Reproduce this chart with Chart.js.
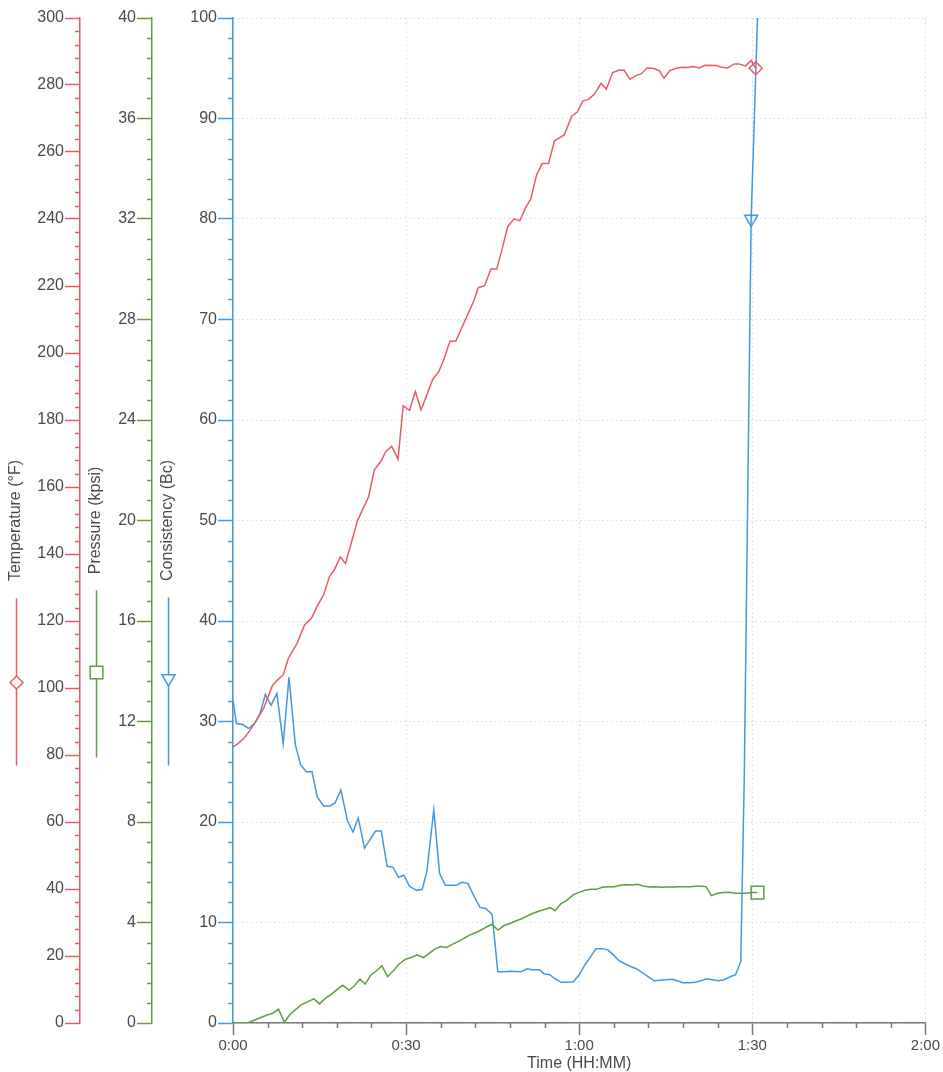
<!DOCTYPE html>
<html lang="en">
<head>
<meta charset="UTF-8" />
<title>Thickening Time Test</title>
<script src="https://cdn.jsdelivr.net/npm/chart.js@4"></script>
<style>
  html, body { margin: 0; padding: 0; background: #fff; }
  #wrap { position: relative; width: 943px; height: 1072px; }
</style>
</head>
<body>
<div id="wrap"><canvas id="myChart"></canvas></div>
<script>
// time in minutes from start
const tempTime = [
  0, 0.7, 1.9, 3.0, 4.2, 5.3, 6.8, 7.6, 8.7, 9.6,
  11.1, 12.4, 13.6, 14.6, 15.7, 16.7, 17.6, 18.6, 19.5, 20.4,
  21.6, 23.5, 24.5, 25.6, 26.5, 27.5, 28.6, 29.5, 30.6, 31.6,
  32.6, 34.6, 35.7, 36.5, 37.6, 38.6, 40.4, 41.8, 42.5, 43.6,
  44.7, 45.7, 46.6, 47.6, 48.7, 49.7, 50.8, 51.6, 52.6, 53.6,
  54.7, 55.7, 57.4, 58.7, 59.7, 60.6, 61.6, 62.6, 63.8, 64.7,
  65.8, 66.8, 67.8, 68.8, 69.8, 70.7, 71.8, 73.0, 73.9, 74.7,
  75.7, 76.8, 77.8, 78.8, 79.8, 80.8, 81.8, 83.7, 84.7, 85.7,
  86.9, 87.7, 88.8, 89.8, 90.6
];
// temperature, °F
const tempValues = [
  82.4, 83.2, 85.0, 87.5, 90.7, 93.9, 100.6, 102.2, 103.9, 108.9,
  113.3, 118.8, 120.8, 124.5, 127.8, 133.2, 135.4, 139.1, 137.2, 142.7,
  150.1, 157.1, 165.1, 167.6, 170.6, 172.2, 168.3, 184.2, 182.9, 188.5,
  183.0, 192.1, 194.6, 197.9, 203.5, 203.5, 210.4, 215.8, 219.5, 220.1,
  225.1, 225.1, 230.7, 237.7, 240.0, 239.5, 243.7, 245.9, 253.1, 256.6,
  256.6, 263.3, 265.1, 270.7, 272.0, 275.2, 275.7, 277.2, 280.5, 278.7,
  283.7, 284.4, 284.4, 281.7, 282.8, 283.3, 285.1, 284.9, 284.2, 282.0,
  284.3, 285.0, 285.3, 285.2, 285.5, 285.1, 285.9, 285.8, 285.3, 285.1,
  286.3, 286.3, 285.7, 287.3, 285.0
];

const pressTime = [
  0, 2.7, 4.2, 5.9, 6.9, 7.9, 8.9, 9.9, 11.8, 13.0,
  14.0, 15.0, 16.0, 17.1, 17.9, 19.0, 20.1, 21.0, 22.0, 22.9,
  23.9, 24.9, 25.8, 26.8, 27.9, 28.8, 29.9, 30.9, 31.9, 33.0,
  33.9, 34.9, 36.0, 37.0, 38.0, 39.0, 40.0, 41.0, 42.0, 43.0,
  43.9, 44.9, 45.9, 47.0, 48.0, 49.0, 50.0, 51.0, 52.0, 53.1,
  54.1, 55.0, 55.8, 56.8, 57.8, 59.0, 60.0, 61.0, 62.0, 63.0,
  64.0, 65.1, 66.1, 67.1, 68.1, 69.1, 70.1, 71.1, 72.1, 73.1,
  74.2, 75.1, 76.2, 77.2, 78.2, 79.2, 80.2, 81.3, 82.0, 82.9,
  84.0, 85.0, 86.0, 87.1, 88.0, 88.9, 89.8, 90.9
];
// pressure, kpsi
const pressValues = [
  0, 0.02, 0.16, 0.32, 0.39, 0.55, 0.03, 0.35, 0.72, 0.85,
  0.96, 0.76, 0.98, 1.15, 1.31, 1.50, 1.31, 1.47, 1.75, 1.55,
  1.91, 2.08, 2.28, 1.84, 2.11, 2.35, 2.54, 2.61, 2.71, 2.60,
  2.75, 2.93, 3.04, 3.01, 3.13, 3.24, 3.37, 3.50, 3.59, 3.70,
  3.82, 3.93, 3.70, 3.88, 3.96, 4.06, 4.15, 4.26, 4.37, 4.46,
  4.53, 4.59, 4.47, 4.74, 4.87, 5.11, 5.20, 5.28, 5.32, 5.32,
  5.40, 5.42, 5.42, 5.48, 5.50, 5.49, 5.52, 5.45, 5.41, 5.42,
  5.40, 5.41, 5.41, 5.42, 5.42, 5.42, 5.44, 5.44, 5.42, 5.07,
  5.16, 5.19, 5.20, 5.16, 5.16, 5.16, 5.19, 5.19
];

const consTime = [
  0, 0.6, 1.7, 2.7, 3.7, 4.7, 5.6, 6.6, 7.6, 8.7,
  9.7, 10.8, 11.7, 12.7, 13.7, 14.6, 15.7, 16.8, 17.7, 18.7,
  19.8, 20.8, 21.7, 22.8, 24.7, 25.7, 26.7, 27.7, 28.7, 29.6,
  30.6, 31.8, 32.8, 33.6, 34.8, 35.8, 36.8, 38.7, 39.7, 40.7,
  41.7, 42.8, 43.8, 44.9, 45.9, 47.0, 48.0, 49.9, 51.0, 51.9,
  53.1, 53.9, 54.9, 55.8, 56.9, 58.0, 59.0, 60.0, 61.0, 62.0,
  62.9, 63.9, 64.9, 65.9, 66.9, 67.9, 69.0, 69.9, 71.0, 72.0,
  73.0, 74.0, 75.0, 76.1, 77.0, 78.0, 79.1, 80.1, 81.1, 82.1,
  83.1, 84.2, 85.1, 86.0, 87.1, 88.0, 88.6, 89.8, 90.9
];
// consistency, Bc
const consValues = [
  32.1, 29.8, 29.7, 29.3, 29.8, 30.8, 32.7, 31.6, 32.8, 27.8,
  34.4, 27.7, 25.7, 25.0, 25.0, 22.5, 21.6, 21.6, 21.9, 23.2,
  20.2, 19.0, 20.4, 17.4, 19.1, 19.1, 15.6, 15.5, 14.5, 14.7,
  13.6, 13.2, 13.3, 15.1, 21.2, 14.9, 13.7, 13.7, 14.0, 13.9,
  12.7, 11.5, 11.4, 10.8, 5.1, 5.1, 5.15, 5.1, 5.4, 5.3,
  5.3, 4.9, 4.8, 4.4, 4.05, 4.05, 4.1, 4.8, 5.8, 6.6,
  7.4, 7.4, 7.3, 6.8, 6.2, 5.9, 5.6, 5.4, 5.0, 4.6,
  4.2, 4.25, 4.3, 4.35, 4.2, 4.0, 4.0, 4.05, 4.2, 4.4,
  4.3, 4.2, 4.3, 4.55, 4.8, 6.1, 24.2, 80, 100
];
const consMarkerIndex = 87;

const RED = '#ea5a66';
const GREEN = '#5b9f3f';
const BLUE = '#4299de';
const TEXT = '#4a4a4a';
const GRID = 'rgba(170,185,200,0.5)';
const FONT = "'Liberation Sans', Arial, sans-serif";

function fmtTime(v) {
    const h = Math.floor(v / 60);
    const m = Math.round(v % 60);
    return h + ':' + String(m).padStart(2, '0');
}

function toPoints(xs, ys) {
    return xs.map((x, i) => ({ x: x, y: ys[i] }));
}

// minor tick marks and the little line+marker keys under the axis titles
const axisExtras = {
    id: 'axisExtras',
    afterDraw(chart) {
        const ctx = chart.ctx;
        const minor = { yTemp: [4, 20, RED], yPress: [0.8, 4, GREEN], yCons: [2, 10, BLUE] };
        ctx.save();
        ctx.lineWidth = 1.5;
        Object.keys(minor).forEach(id => {
            const s = chart.scales[id];
            const [step, major, col] = minor[id];
            ctx.strokeStyle = col;
            const n = Math.round((s.max - s.min) / step);
            for (let i = 0; i <= n; i++) {
                const v = s.min + i * step;
                if (Math.abs(v / major - Math.round(v / major)) < 1e-6) continue;
                const y = Math.round(s.getPixelForValue(v)) + 0.5;
                ctx.beginPath();
                ctx.moveTo(s.right - 5, y);
                ctx.lineTo(s.right, y);
                ctx.stroke();
            }
        });
        const xs = chart.scales.x;
        ctx.strokeStyle = '#777';
        for (let v = 6; v < xs.max; v += 6) {
            if (v % 30 === 0) continue;
            const x = Math.round(xs.getPixelForValue(v)) + 0.5;
            ctx.beginPath();
            ctx.moveTo(x, xs.top);
            ctx.lineTo(x, xs.top + 5);
            ctx.stroke();
        }

        const keys = [
            { id: 'yTemp', color: RED, style: 'rectRot', rot: 0, r: 6.5, from: 78, to: 245, at: 162 },
            { id: 'yPress', color: GREEN, style: 'rect', rot: 0, r: 9, from: 70, to: 237, at: 152 },
            { id: 'yCons', color: BLUE, style: 'triangle', rot: 180, r: 7.5, from: 77, to: 245, at: 158 }
        ];
        keys.forEach(k => {
            const s = chart.scales[k.id];
            const t = s.options.title;
            const f = Chart.helpers.toFont(t.font);
            const p = Chart.helpers.toPadding(t.padding);
            const x = Math.round(s.left + p.top + f.lineHeight / 2) + 0.5;
            const mid = (s.top + s.bottom) / 2;
            ctx.strokeStyle = k.color;
            ctx.lineWidth = 1.5;
            ctx.beginPath();
            ctx.moveTo(x, mid + k.from);
            ctx.lineTo(x, mid + k.to);
            ctx.stroke();
            ctx.fillStyle = '#fff';
            Chart.helpers.drawPoint(ctx, { pointStyle: k.style, rotation: k.rot, radius: k.r, borderWidth: 1.5 }, x, mid + k.at);
        });
        ctx.restore();
    }
};

function yAxis(opts) {
    return {
        type: 'linear',
        position: 'left',
        weight: opts.weight,
        min: opts.min,
        max: opts.max,
        ticks: {
            stepSize: opts.step,
            color: TEXT,
            padding: 1,
            font: { family: FONT, size: 16, lineHeight: 1 }
        },
        grid: {
            drawOnChartArea: !!opts.grid,
            color: GRID,
            lineWidth: 1,
            tickLength: 15,
            tickColor: opts.color,
            tickWidth: 1.5
        },
        border: { color: opts.color, width: 1.5, dash: [1.5, 3] },
        title: {
            display: true,
            text: opts.title,
            color: TEXT,
            font: { family: FONT, size: 16, lineHeight: 1.2 },
            padding: { top: 6, bottom: 0 }
        },
        afterFit: s => { s.width = opts.width; }
    };
}

const lastOf = arr => arr.length - 1;

new Chart(document.getElementById('myChart'), {
    type: 'line',
    data: {
        datasets: [
            {
                label: 'Temperature (°F)',
                data: toPoints(tempTime, tempValues),
                yAxisID: 'yTemp',
                borderColor: RED,
                borderWidth: 1.5,
                pointStyle: 'rectRot',
                pointRadius: c => c.dataIndex === lastOf(tempValues) ? 6.5 : 0,
                pointBorderColor: RED,
                pointBorderWidth: 1.5,
                pointBackgroundColor: 'rgba(0,0,0,0)'
            },
            {
                label: 'Pressure (kpsi)',
                data: toPoints(pressTime, pressValues),
                yAxisID: 'yPress',
                borderColor: GREEN,
                borderWidth: 1.5,
                pointStyle: 'rect',
                pointRadius: c => c.dataIndex === lastOf(pressValues) ? 9 : 0,
                pointBorderColor: GREEN,
                pointBorderWidth: 1.5,
                pointBackgroundColor: 'rgba(0,0,0,0)'
            },
            {
                label: 'Consistency (Bc)',
                data: toPoints(consTime, consValues),
                yAxisID: 'yCons',
                borderColor: BLUE,
                borderWidth: 1.5,
                pointStyle: 'triangle',
                pointRotation: 180,
                pointRadius: c => c.dataIndex === consMarkerIndex ? 7.5 : 0,
                pointBorderColor: BLUE,
                pointBorderWidth: 1.5,
                pointBackgroundColor: 'rgba(0,0,0,0)'
            }
        ]
    },
    options: {
        responsive: true,
        maintainAspectRatio: false,
        animation: false,
        layout: { padding: { top: 18, right: 0, bottom: 0, left: 0 } },
        plugins: {
            legend: { display: false },
            tooltip: { enabled: false }
        },
        scales: {
            x: {
                type: 'linear',
                position: 'bottom',
                min: 0,
                max: 120,
                ticks: {
                    stepSize: 30,
                    color: TEXT,
                    padding: 3,
                    maxRotation: 0,
                    font: { family: FONT, size: 15, lineHeight: 1 },
                    callback: v => fmtTime(v)
                },
                grid: { color: GRID, lineWidth: 1, tickLength: 12, tickColor: '#777', tickWidth: 1.5 },
                border: { color: '#777', width: 1.5, dash: [1.5, 3] },
                title: {
                    display: true,
                    text: 'Time (HH:MM)',
                    color: TEXT,
                    font: { family: FONT, size: 16, lineHeight: 1 },
                    padding: 0
                }
            },
            yTemp: yAxis({ weight: 3, min: 0, max: 300, step: 20, color: RED, title: 'Temperature (°F)', width: 80 }),
            yPress: yAxis({ weight: 2, min: 0, max: 40, step: 4, color: GREEN, title: 'Pressure (kpsi)', width: 72 }),
            yCons: yAxis({ weight: 1, min: 0, max: 100, step: 10, color: BLUE, title: 'Consistency (Bc)', width: 81, grid: true })
        }
    },
    plugins: [axisExtras]
});
</script>
</body>
</html>
